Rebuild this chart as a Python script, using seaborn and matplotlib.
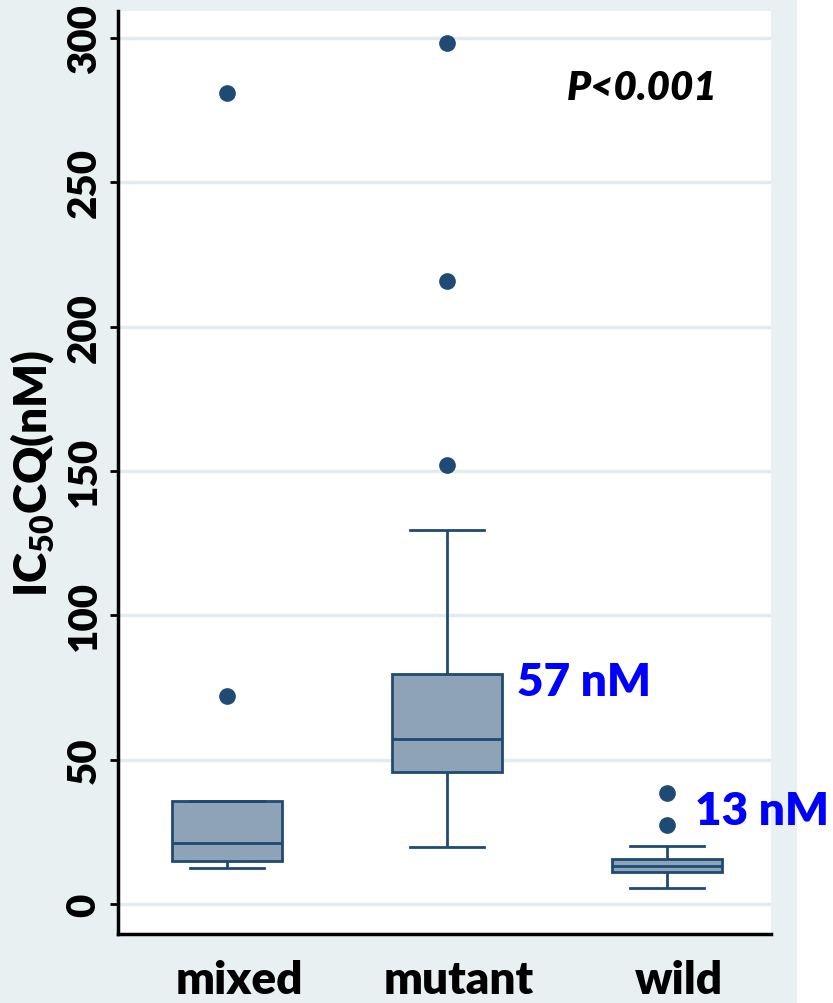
import matplotlib
matplotlib.use("Agg")
import matplotlib.pyplot as plt
from matplotlib.patches import Rectangle
from matplotlib.transforms import ScaledTranslation
import seaborn as sns
import pandas as pd

# ---- data ----
categories = ["mixed", "mutant", "wild"]
mixed_vals = [12.5, 13.5, 15.0, 18.0, 21.0, 28.0, 35.7, 72.0, 281.0]
mutant_vals = [19.7, 28.0, 35.0, 41.0, 45.7, 48.0, 52.0, 55.0, 57.2, 62.0,
               68.0, 74.0, 79.7, 129.5, 152.0, 215.8, 298.2]
wild_vals = [5.5, 9.0, 10.5, 11.1, 12.0, 12.8, 13.3, 14.0, 15.0, 15.6,
             20.1, 27.4, 38.4]
yticks = [0, 50, 100, 150, 200, 250, 300]
median_labels = {"mutant": "57 nM", "wild": "13 nM"}
p_text = "P<0.001"

rows = []
for cat, vals in zip(categories, [mixed_vals, mutant_vals, wild_vals]):
    for v in vals:
        rows.append({"group": cat, "ic50": v})
df = pd.DataFrame(rows)

# ---- style ----
bg = "#e9f0f2"
box_face = "#8fa3b7"
edge = "#1f4a74"
grid_c = "#e2ecef"
font = "Lato"
W = "heavy"

plt.rcParams["font.family"] = [font, "DejaVu Sans"]
plt.rcParams["mathtext.fontset"] = "custom"
plt.rcParams["mathtext.rm"] = "Lato:heavy"
plt.rcParams["mathtext.it"] = "Lato:heavy"
plt.rcParams["mathtext.bf"] = "Lato:heavy"

fig = plt.figure(figsize=(8.33, 10.04), dpi=100, facecolor=bg)
fig.patches.append(Rectangle((797 / 833, 0), 1 - 797 / 833, 1,
                             transform=fig.transFigure, facecolor="white",
                             edgecolor="none", zorder=-5))
ax = fig.add_axes([118 / 833, 1 - 935 / 1004, (771 - 118) / 833, (935 - 12) / 1004])
ax.set_facecolor("white")

sns.boxplot(data=df, x="group", y="ic50", order=categories, ax=ax,
            width=0.5, color=box_face, saturation=1, linecolor=edge,
            linewidth=2.0,
            flierprops=dict(marker="o", markerfacecolor=edge,
                            markeredgecolor=edge, markersize=11),
            capwidths=0.34)

ax.set_xlim(-0.4955, 2.4727)
ax.set_ylim(-10.39, 309.3)
ax.set_yticks(yticks)
ax.set_yticklabels([str(t) for t in yticks], rotation=90, va="center",
                   fontsize=29, fontweight=W)
ax.set_xticks(range(len(categories)))
ax.set_xticklabels(categories, fontsize=33, fontweight=W)
ax.tick_params(axis="x", length=0, pad=18)
ax.tick_params(axis="y", length=6, width=2, pad=5, color="black")
shift = ScaledTranslation(12 / 100, 0, fig.dpi_scale_trans)
for lbl in ax.get_xticklabels():
    lbl.set_transform(lbl.get_transform() + shift)

ax.set_xlabel("")
ax.set_ylabel(r"IC$_{50}$CQ(nM)", fontsize=33, fontweight=W, labelpad=6)

ax.yaxis.grid(True, color=grid_c, linewidth=2.5, zorder=0)
ax.set_axisbelow(True)
for s in ["top", "right"]:
    ax.spines[s].set_visible(False)
for s in ["left", "bottom"]:
    ax.spines[s].set_linewidth(2.5)
    ax.spines[s].set_color("black")

# annotations
ax.text(1.318, 72.4, median_labels["mutant"], color="#0000ff", fontsize=33,
        fontweight=W, ha="left", va="baseline")
ax.text(2.127, 27.7, median_labels["wild"], color="#0000ff", fontsize=33,
        fontweight=W, ha="left", va="baseline", clip_on=False)
ax.text(2.232, 278.8, p_text, color="black", fontsize=29, fontweight=W,
        fontstyle="italic", ha="right", va="baseline")

fig.savefig("out.png", dpi=100, facecolor=bg)
